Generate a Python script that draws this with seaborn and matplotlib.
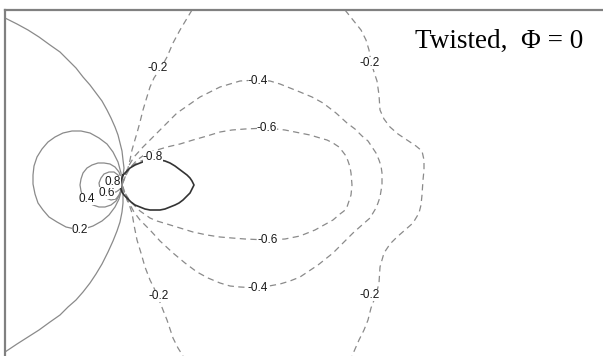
import numpy as np
import pandas as pd
import matplotlib
matplotlib.use("Agg")
import matplotlib.pyplot as plt
import seaborn as sns

# contour lines, in picture pixel units (x right, y down)
zero_line = [(5, 18), (17, 24), (28, 30), (39, 37), (50, 45), (60, 52), (68, 60), (76, 68),
             (83, 77), (90, 85), (96, 93), (102, 101), (107, 110), (111, 118), (115, 127),
             (118, 135), (120, 143), (122, 151), (123, 160), (124, 168), (123, 176),
             (122, 185), (123, 194), (123, 203), (122, 212), (120, 222), (117, 231),
             (113, 241), (108, 252), (102, 264), (96, 274), (90, 283), (83, 292), (76, 300),
             (68, 307), (60, 315), (50, 322), (39, 330), (28, 337), (17, 344), (5, 352)]
pos02 = [(122, 185), (121, 173), (118, 162), (113, 152), (107, 144), (99, 138), (90, 133),
         (81, 131), (72, 131), (63, 133), (55, 137), (48, 142), (42, 149), (37, 157),
         (34, 166), (33, 175), (33, 184), (35, 194), (38, 203), (43, 210), (49, 217),
         (57, 222), (66, 227), (75, 229), (84, 229), (93, 226), (102, 221), (109, 215),
         (115, 207), (119, 199), (121, 192), (122, 185)]
pos04 = [(122, 185), (121, 178), (119, 172), (115, 167), (110, 164), (104, 163), (98, 163),
         (92, 165), (87, 168), (83, 173), (81, 179), (80, 185), (81, 191), (83, 197),
         (87, 202), (93, 205), (99, 207), (105, 207), (111, 205), (116, 201), (119, 196),
         (121, 191), (122, 185)]
pos06 = [(122, 185), (121, 180), (118, 175), (114, 172), (109, 172), (104, 174), (101, 178),
         (99, 183), (100, 189), (102, 194), (106, 198), (111, 200), (116, 199), (119, 195),
         (121, 190), (122, 185)]
pos08 = [(122, 185), (120, 180), (117, 178), (113, 177), (110, 179), (108, 182), (107, 186),
         (109, 190), (112, 192), (116, 192), (119, 190), (121, 188), (122, 185)]
neg02_inner = [(192, 10), (186, 20), (180, 30), (173, 43), (167, 57), (162, 66), (154, 78),
               (150, 87), (146, 100), (143, 110), (140, 122), (137, 133), (134, 143),
               (132, 150), (130, 160), (127, 172), (124, 180), (122, 185), (124, 190),
               (127, 200), (130, 207), (132, 213), (134, 225), (137, 240), (141, 253),
               (145, 267), (150, 280), (156, 292), (163, 310), (167, 320), (173, 338),
               (178, 348), (183, 356)]
neg04 = [(122, 185), (124, 178), (128, 167), (134, 157), (143, 147), (157, 133), (170, 120),
         (177, 113), (190, 104), (200, 97), (210, 92), (220, 87), (230, 84), (240, 81),
         (258, 80), (270, 81), (280, 84), (290, 88), (300, 92), (312, 97), (323, 103),
         (336, 113), (347, 123), (355, 129), (362, 136), (368, 141), (372, 147), (376, 153),
         (379, 160), (381, 166), (382, 173), (382, 185), (381, 191), (380, 197), (378, 203),
         (376, 208), (373, 213), (370, 218), (362, 225), (353, 233), (343, 243), (333, 253),
         (318, 265), (300, 277), (290, 281), (280, 284), (258, 288), (240, 287), (230, 286),
         (220, 283), (208, 278), (197, 272), (185, 263), (173, 253), (160, 241), (150, 230),
         (140, 220), (134, 212), (128, 201), (124, 192), (122, 185)]
neg06 = [(122, 185), (125, 177), (130, 168), (137, 160), (147, 153), (157, 150), (167, 147),
         (180, 144), (193, 140), (207, 136), (220, 132), (232, 130), (245, 129), (267, 128),
         (285, 130), (300, 133), (310, 135), (320, 138), (327, 140), (333, 143), (339, 147),
         (343, 152), (346, 156), (348, 161), (350, 167), (351, 173), (352, 185), (351, 195),
         (349, 201), (347, 207), (344, 211), (340, 214), (333, 220), (324, 225), (315, 230),
         (300, 236), (285, 239), (268, 240), (245, 239), (232, 238), (220, 237), (207, 235),
         (193, 232), (180, 228), (167, 224), (157, 221), (150, 218), (140, 211), (130, 201),
         (125, 193), (122, 185)]
neg08 = [(122, 185), (123, 179), (127, 171), (133, 165), (141, 161), (150, 158)]
neg02_outer = [(345, 10), (353, 20), (361, 30), (366, 40), (369, 50), (371, 62), (374, 72),
               (377, 81), (379, 95), (380, 110), (384, 119), (390, 127), (398, 134),
               (407, 140), (416, 146), (422, 151), (424, 160), (424, 170), (423, 180),
               (422, 195), (421, 205), (419, 213), (413, 223), (405, 230), (397, 237),
               (390, 244), (384, 253), (380, 267), (379, 283), (376, 295), (371, 308),
               (368, 320), (364, 330), (359, 340), (352, 356)]
body = [(123, 175), (126, 172), (130, 168), (135, 165), (140, 163), (145, 161), (150, 160),
        (155, 160), (160, 160), (165, 161), (170, 163), (175, 166), (179, 169), (183, 172),
        (187, 175), (190, 178), (192, 181), (194, 185), (192, 189), (190, 193), (187, 196),
        (183, 200), (179, 203), (175, 205), (170, 207), (165, 209), (160, 210), (155, 210),
        (150, 210), (145, 209), (140, 207), (135, 205), (131, 202), (127, 198), (124, 195),
        (122, 192), (121, 189), (120, 185), (121, 181), (122, 178), (123, 175)]

# contour labels: text and where it sits
label_text = ["0.2", "0.4", "0.6", "0.8", "-0.2", "-0.2", "-0.2", "-0.2",
              "-0.4", "-0.4", "-0.6", "-0.6", "-0.8"]
label_x = [80, 87, 107, 113, 158, 159, 370, 370, 258, 258, 267, 268, 153]
label_y = [230, 199, 193, 182, 68, 296, 63, 295, 81, 288, 128, 240, 157]

title_text = "Twisted,  \u03a6 = 0"

sns.set_style("white")

fig = plt.figure(figsize=(6.03, 3.56), dpi=100)
ax = fig.add_axes([5 / 603, 0, 598 / 603, 346 / 356])

line_col = "#8a8a8a"
dash = (0, (5, 3.5))

solid_curves = [zero_line, pos02, pos04, pos06, pos08]
dashed_curves = [neg02_inner, neg02_outer, neg04, neg06, neg08]

for pts in solid_curves:
    d = pd.DataFrame(pts, columns=["x", "y"])
    sns.lineplot(data=d, x="x", y="y", sort=False, estimator=None, ax=ax,
                 color=line_col, linewidth=0.9)

for pts in dashed_curves:
    d = pd.DataFrame(pts, columns=["x", "y"])
    sns.lineplot(data=d, x="x", y="y", sort=False, estimator=None, ax=ax,
                 color=line_col, linewidth=0.9, linestyle=dash)

bd = pd.DataFrame(body, columns=["x", "y"])
sns.lineplot(data=bd, x="x", y="y", sort=False, estimator=None, ax=ax,
             color="#333333", linewidth=1.2)

for t, x, y in zip(label_text, label_x, label_y):
    ax.text(x, y, t, ha="center", va="center", fontsize=8.5, color="#1a1a1a",
            family="Liberation Sans",
            bbox=dict(facecolor="white", edgecolor="none", pad=0.2))

ax.text(415, 48, title_text, ha="left", va="baseline", fontsize=19.5,
        family="Liberation Serif", color="black")

ax.set_xlim(5, 603)
ax.set_ylim(356, 10)
ax.set_xticks([])
ax.set_yticks([])
ax.set_xlabel("")
ax.set_ylabel("")
sns.despine(ax=ax, top=False, right=True, left=False, bottom=True)
for s in ["left", "top"]:
    ax.spines[s].set_color("#808080")
    ax.spines[s].set_linewidth(1.6)

fig.savefig("out.png", dpi=100)
